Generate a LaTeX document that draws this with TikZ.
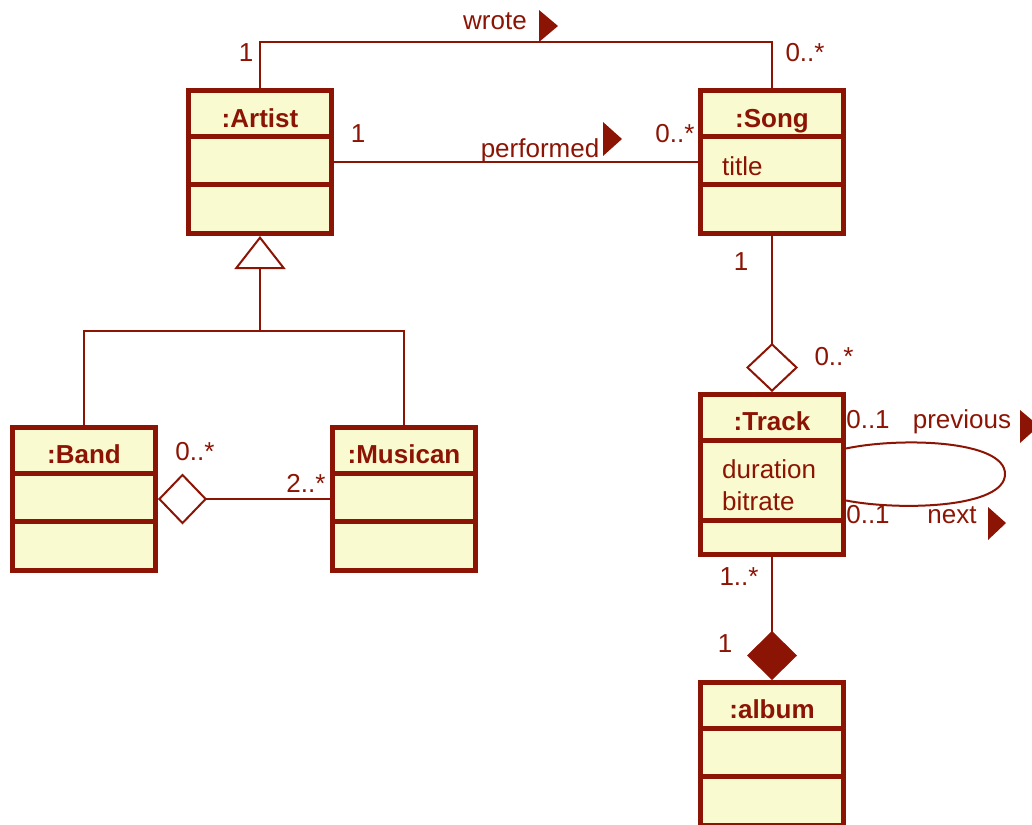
\documentclass[tikz,border=0pt]{standalone}
\usepackage{fontspec}
\setmainfont{Liberation Sans}
\usetikzlibrary{arrows.meta}

\definecolor{umlred}{RGB}{140,20,4}
\definecolor{umlfill}{RGB}{250,250,208}

\begin{document}
\begin{tikzpicture}[x=1pt, y=-1pt, font=\fontsize{26}{30}\selectfont, text=umlred]

    \tikzstyle{classbox} = [rectangle, draw=umlred, fill=umlfill, line width=5pt, inner sep=0pt, minimum width=143pt, minimum height=143pt]
    \tikzstyle{classtitle} = [anchor=base, inner sep=0pt, font=\fontsize{26}{30}\selectfont\bfseries]
    \tikzstyle{attr} = [anchor=base west, inner sep=0pt]
    \tikzstyle{mult} = [anchor=base, inner sep=0pt]
    \tikzstyle{divider} = [draw=umlred, line width=5pt]
    \tikzstyle{assoc} = [draw=umlred, line width=2pt]
    \tikzstyle{dirmark} = [fill=umlred]

    \useasboundingbox (0,0) rectangle (1032,824);

    % classes
    \node (artist) [classbox] at (260,162) {};
    \node (song) [classbox] at (772,162) {};
    \node (band) [classbox] at (84,499) {};
    \node (musican) [classbox] at (404,499) {};
    \node (track) [classbox, minimum height=160pt] at (772,474.5) {};
    \node (album) [classbox] at (772,754) {};

    \draw [divider] ([yshift=-48pt]artist.north west) -- ([yshift=-48pt]artist.north east);
    \draw [divider] ([yshift=-96pt]artist.north west) -- ([yshift=-96pt]artist.north east);
    \draw [divider] ([yshift=-48pt]song.north west) -- ([yshift=-48pt]song.north east);
    \draw [divider] ([yshift=-96pt]song.north west) -- ([yshift=-96pt]song.north east);
    \draw [divider] ([yshift=-48pt]band.north west) -- ([yshift=-48pt]band.north east);
    \draw [divider] ([yshift=-96pt]band.north west) -- ([yshift=-96pt]band.north east);
    \draw [divider] ([yshift=-48pt]musican.north west) -- ([yshift=-48pt]musican.north east);
    \draw [divider] ([yshift=-96pt]musican.north west) -- ([yshift=-96pt]musican.north east);
    \draw [divider] ([yshift=-48pt]track.north west) -- ([yshift=-48pt]track.north east);
    \draw [divider] ([yshift=-128pt]track.north west) -- ([yshift=-128pt]track.north east);
    \draw [divider] ([yshift=-48pt]album.north west) -- ([yshift=-48pt]album.north east);
    \draw [divider] ([yshift=-96pt]album.north west) -- ([yshift=-96pt]album.north east);

    \node (artisttitle) [classtitle] at (260,128) {:Artist};
    \node (songtitle) [classtitle] at (772,128) {:Song};
    \node (bandtitle) [classtitle] at (84,463) {:Band};
    \node (musicantitle) [classtitle] at (404,463) {:Musican};
    \node (tracktitle) [classtitle] at (772,430) {:Track};
    \node (albumtitle) [classtitle] at (772,718) {:album};

    \node (songattr) [attr] at (722,175) {title};
    \node (trackdur) [attr] at (722,478) {duration};
    \node (trackbit) [attr] at (722,510) {bitrate};

    % wrote
    \coordinate (wrotecorner) at (772,42);
    \draw [assoc] (artist.north) |- (wrotecorner) -- (song.north);
    \node (wrote) [mult] at (495,30) {wrote};
    \fill [dirmark] (539,10) -- (558,26) -- (539,42) -- cycle;
    \node (wrotea) [mult] at (246,62) {1};
    \node (wroteb) [mult] at (805,62) {0..*};

    % performed
    \draw [assoc] (artist.east) -- (song.west);
    \node (performed) [mult] at (540,157) {performed};
    \fill [dirmark] (603,122) -- (622,139) -- (603,156) -- cycle;
    \node (performeda) [mult] at (358,142) {1};
    \node (performedb) [mult] at (675,142) {0..*};

    % generalization
    \coordinate (genbar) at (260,331);
    \draw [assoc] (band.north) |- (genbar) -| (musican.north);
    \draw [assoc, -{Triangle[open, fill=white, length=33pt, width=51pt]}] (genbar) -- (artist.south);

    % band members
    \draw [assoc, {Diamond[open, fill=white, length=49pt, width=51pt]}-] (band.east) -- (musican.west);
    \node (banda) [mult] at (195,460) {0..*};
    \node (bandb) [mult] at (306,492) {2..*};

    % song tracks
    \draw [assoc, -{Diamond[open, fill=white, length=49pt, width=52pt]}] (song.south) -- (track.north);
    \node (tracksa) [mult] at (741,270) {1};
    \node (tracksb) [mult] at (834,365) {0..*};

    % previous / next
    \coordinate (looptip) at (1005,474);
    \draw [assoc] ([yshift=26pt]track.east) .. controls (900,437) and (1005,440) .. (looptip)
        .. controls (1005,508) and (900,511) .. ([yshift=-26pt]track.east);
    \node (preva) [mult] at (868,428) {0..1};
    \node (previous) [mult] at (962,428) {previous};
    \fill [dirmark] (1020,410) -- (1039,426) -- (1020,443) -- cycle;
    \node (nexta) [mult] at (868,523) {0..1};
    \node (next) [mult] at (952,523) {next};
    \fill [dirmark] (988,507) -- (1006,523) -- (988,540) -- cycle;

    % album tracks
    \draw [assoc, -{Diamond[umlred, length=49pt, width=50pt]}] (track.south) -- (album.north);
    \node (albuma) [mult] at (739,585) {1..*};
    \node (albumb) [mult] at (725,652) {1};

\end{tikzpicture}
\end{document}
